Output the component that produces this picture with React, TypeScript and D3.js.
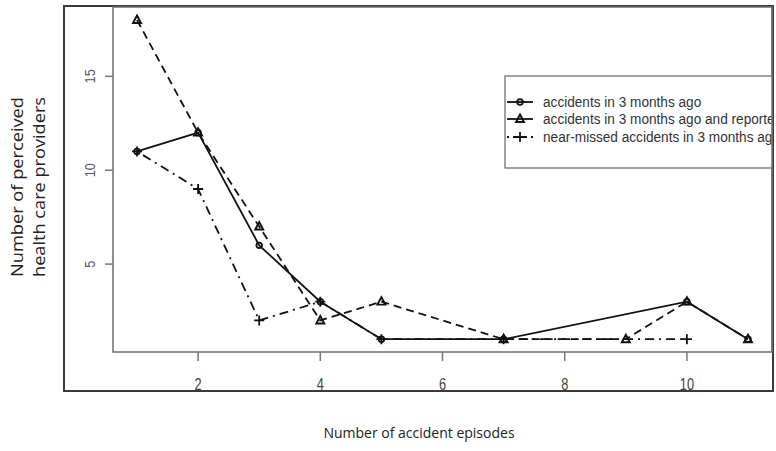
import React, { useEffect, useRef } from 'react';
import * as d3 from 'd3';

// x = number of accident episodes, y = number of providers
const accidentsX = [1, 2, 3, 4, 5, 7, 10, 11];
const accidentsY = [11, 12, 6, 3, 1, 1, 3, 1];

const reportedX = [1, 2, 3, 4, 5, 7, 9, 10, 11];
const reportedY = [18, 12, 7, 2, 3, 1, 1, 3, 1];

const nearMissX = [1, 2, 3, 4, 5, 7, 10];
const nearMissY = [11, 9, 2, 3, 1, 1, 1];

const xTicks = [2, 4, 6, 8, 10];
const yTicks = [5, 10, 15];

const seriesNames = [
    'accidents in 3 months ago',
    'accidents in 3 months ago and reported',
    'near-missed accidents in 3 months ago'
];

const App = () => {
    const svgRef = useRef<SVGSVGElement>(null);

    useEffect(() => {
        const width = 776;
        const height = 451;
        const svg = d3.select(svgRef.current)
            .attr('width', width)
            .attr('height', height);
        svg.selectAll('*').remove();

        const plot = { left: 113, top: 7, right: 772, bottom: 352 };
        const narrow = '"Liberation Sans", Arial, sans-serif';

        const x = d3.scaleLinear().domain([1, 11]).range([137, 748]);
        const y = d3.scaleLinear().domain([0, 18]).range([358, 20]);

        svg.append('defs').append('clipPath').attr('id', 'plotClip')
            .append('rect')
            .attr('x', plot.left).attr('y', plot.top)
            .attr('width', plot.right - plot.left)
            .attr('height', plot.bottom - plot.top);

        // outer frame
        svg.append('rect')
            .attr('x', 64).attr('y', 6)
            .attr('width', 709).attr('height', 385)
            .attr('fill', 'none')
            .attr('stroke', '#3a3a3a')
            .attr('stroke-width', 2);

        // plot box
        svg.append('rect')
            .attr('x', plot.left).attr('y', plot.top)
            .attr('width', plot.right - plot.left)
            .attr('height', plot.bottom - plot.top)
            .attr('fill', 'none')
            .attr('stroke', '#6e6e6e')
            .attr('stroke-width', 1.5);

        // x axis ticks
        const xAxis = svg.append('g');
        xAxis.selectAll('line').data(xTicks).enter().append('line')
            .attr('x1', d => x(d)).attr('x2', d => x(d))
            .attr('y1', plot.bottom).attr('y2', plot.bottom + 9)
            .attr('stroke', '#777').attr('stroke-width', 1.5);
        xAxis.selectAll('text').data(xTicks).enter().append('text')
            .attr('transform', d => `translate(${x(d)}, 390) scale(0.8, 1)`)
            .attr('text-anchor', 'middle')
            .attr('font-family', narrow)
            .attr('font-size', 16)
            .attr('fill', '#444')
            .text(d => d);

        // y axis ticks (labels rotated, R style)
        const yAxis = svg.append('g');
        yAxis.selectAll('line').data(yTicks).enter().append('line')
            .attr('x1', plot.left - 8).attr('x2', plot.left)
            .attr('y1', d => y(d)).attr('y2', d => y(d))
            .attr('stroke', '#777').attr('stroke-width', 1.5);
        yAxis.selectAll('text').data(yTicks).enter().append('text')
            .attr('transform', d => `translate(95, ${y(d)}) rotate(-90) scale(0.85, 1)`)
            .attr('text-anchor', 'middle')
            .attr('font-family', narrow)
            .attr('font-size', 15)
            .attr('fill', '#555')
            .text(d => d);

        // axis titles
        svg.append('text')
            .attr('x', 419).attr('y', 438)
            .attr('text-anchor', 'middle')
            .attr('font-family', '"Open Sans", sans-serif')
            .attr('font-size', 14)
            .attr('fill', '#222')
            .text('Number of accident episodes');

        const yTitle = svg.append('text')
            .attr('transform', 'translate(0, 187) rotate(-90)')
            .attr('text-anchor', 'middle')
            .attr('font-family', '"Open Sans", sans-serif')
            .attr('font-size', 16)
            .attr('font-weight', 500)
            .attr('fill', '#222');
        yTitle.append('tspan').attr('x', 0).attr('y', 23)
            .attr('textLength', 180).attr('lengthAdjust', 'spacingAndGlyphs')
            .text('Number of perceived');
        yTitle.append('tspan').attr('x', 0).attr('y', 45)
            .attr('textLength', 180).attr('lengthAdjust', 'spacingAndGlyphs')
            .text('health care providers');

        const g = svg.append('g').attr('clip-path', 'url(#plotClip)');

        const line = d3.line<[number, number]>()
            .x(d => x(d[0]))
            .y(d => y(d[1]));

        const series = [
            { xs: accidentsX, ys: accidentsY, dash: null, marker: 'circle' },
            { xs: reportedX, ys: reportedY, dash: '8,5', marker: 'triangle' },
            { xs: nearMissX, ys: nearMissY, dash: '2,5,9,5', marker: 'plus' }
        ];

        const triangle = (cx: number, cy: number) =>
            `M${cx},${cy - 4.5} L${cx + 4},${cy + 3} L${cx - 4},${cy + 3} Z`;

        const drawMarker = (sel: any, kind: string, cx: number, cy: number) => {
            if (kind === 'circle') {
                sel.append('circle')
                    .attr('cx', cx).attr('cy', cy).attr('r', 2.8)
                    .attr('fill', 'none').attr('stroke', '#111').attr('stroke-width', 1.8);
            } else if (kind === 'triangle') {
                sel.append('path')
                    .attr('d', triangle(cx, cy))
                    .attr('fill', 'none').attr('stroke', '#111').attr('stroke-width', 1.9);
            } else {
                sel.append('path')
                    .attr('d', `M${cx - 5},${cy} H${cx + 5} M${cx},${cy - 5} V${cy + 5}`)
                    .attr('fill', 'none').attr('stroke', '#111').attr('stroke-width', 1.8);
            }
        };

        series.forEach(s => {
            const pts = s.xs.map((v, i) => [v, s.ys[i]] as [number, number]);
            g.append('path')
                .attr('d', line(pts))
                .attr('fill', 'none')
                .attr('stroke', '#111')
                .attr('stroke-width', 1.8)
                .attr('stroke-dasharray', s.dash);
        });
        series.forEach(s => {
            s.xs.forEach((v, i) => drawMarker(g, s.marker, x(v), y(s.ys[i])));
        });

        // legend (runs past the right edge of the plot, clipped like the original)
        const legend = g.append('g');
        legend.append('rect')
            .attr('x', 505).attr('y', 76)
            .attr('width', 320).attr('height', 92)
            .attr('fill', 'white')
            .attr('stroke', '#666')
            .attr('stroke-width', 1.2);

        const rowY = [102, 119, 137];
        series.forEach((s, i) => {
            legend.append('line')
                .attr('x1', 507).attr('x2', 533)
                .attr('y1', rowY[i]).attr('y2', rowY[i])
                .attr('stroke', '#111').attr('stroke-width', 1.8)
                .attr('stroke-dasharray', i === 2 ? '2,4' : null);
            drawMarker(legend, s.marker, 520, rowY[i]);
            legend.append('text')
                .attr('transform', `translate(543, ${rowY[i] + 5}) scale(0.88, 1)`)
                .attr('font-family', narrow)
                .attr('font-size', 15.5)
                .attr('fill', '#333')
                .text(seriesNames[i]);
        });

        // redraw plot box right edge on top of the legend
        svg.append('line')
            .attr('x1', plot.right).attr('x2', plot.right)
            .attr('y1', plot.top).attr('y2', plot.bottom)
            .attr('stroke', '#6e6e6e').attr('stroke-width', 1.5);
    }, []);

    return (
        <div style={{ position: 'absolute', left: 0, top: 0, background: 'white' }}>
            <svg ref={svgRef}></svg>
        </div>
    );
};

export default App;
